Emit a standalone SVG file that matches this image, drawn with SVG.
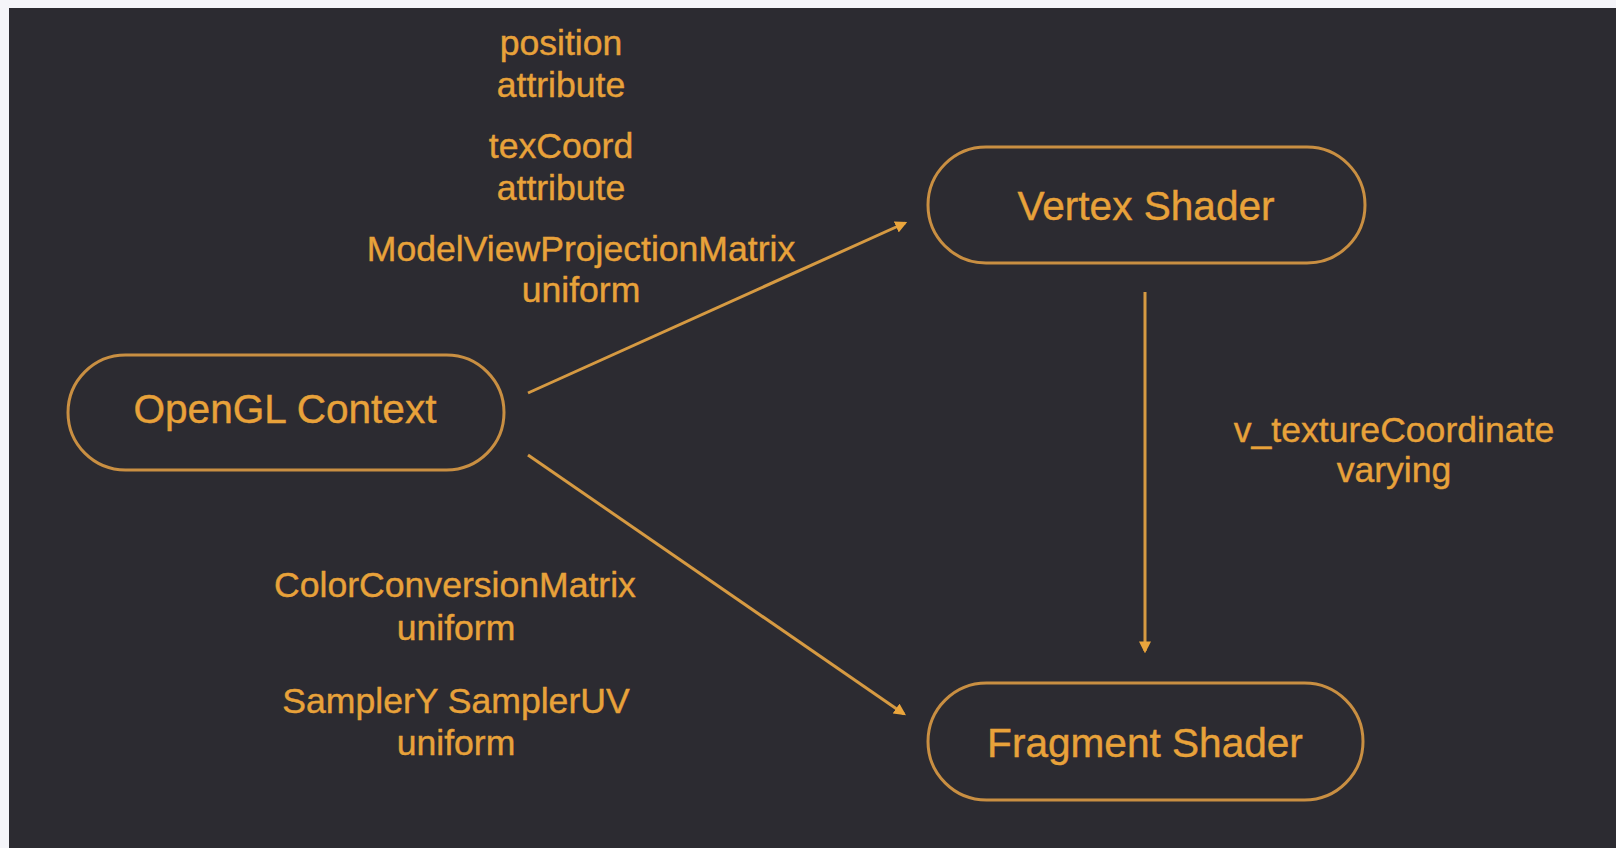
<svg xmlns="http://www.w3.org/2000/svg" width="1616" height="848" viewBox="0 0 1616 848">
  <style>
    .node { fill: none; stroke: #c98f42; stroke-width: 3; }
    .title { font-family: "Liberation Sans", Arial, sans-serif; font-size: 40.6px; fill: #e8a23a; stroke: #e8a23a; stroke-width: 0.4; text-anchor: middle; }
    .label { font-family: "Liberation Sans", Arial, sans-serif; font-size: 35.6px; fill: #e8a23a; stroke: #e8a23a; stroke-width: 0.4; text-anchor: middle; }
    .edge { stroke: #d69a42; stroke-width: 3; fill: none; marker-end: url(#tip); }
  </style>
  <defs>
    <marker id="tip" viewBox="0 0 10 10" refX="8" refY="5" markerWidth="4" markerHeight="4" orient="auto" markerUnits="strokeWidth">
      <path d="M0,0 L10,5 L0,10 z" fill="#eaa53c"/>
    </marker>
  </defs>

  <!-- page and canvas -->
  <rect x="0" y="0" width="1616" height="848" fill="#f5f5f9"/>
  <rect x="9" y="8" width="1607" height="840" fill="#2c2b31"/>

  <!-- connectors -->
  <g id="connectors">
    <line class="edge" x1="528" y1="393" x2="905" y2="223"/>
    <line class="edge" x1="528" y1="455" x2="904" y2="714"/>
    <line class="edge" x1="1145" y1="292" x2="1145" y2="651"/>
  </g>

  <!-- uniforms/attributes passed to the vertex shader -->
  <g id="vertex-inputs">
    <text class="label" x="561" y="55">position</text>
    <text class="label" x="561" y="97">attribute</text>
    <text class="label" x="561" y="158">texCoord</text>
    <text class="label" x="561" y="200">attribute</text>
    <text class="label" x="581" y="261">ModelViewProjectionMatrix</text>
    <text class="label" x="581" y="302">uniform</text>
  </g>

  <!-- uniforms passed to the fragment shader -->
  <g id="fragment-inputs">
    <text class="label" x="455" y="597">ColorConversionMatrix</text>
    <text class="label" x="456" y="640">uniform</text>
    <text class="label" x="456" y="713">SamplerY SamplerUV</text>
    <text class="label" x="456" y="755">uniform</text>
  </g>

  <!-- varying between shaders -->
  <g id="varying">
    <text class="label" x="1394" y="442">v_textureCoordinate</text>
    <text class="label" x="1394" y="482">varying</text>
  </g>

  <g id="opengl-context">
    <rect class="node" x="68" y="355" width="436" height="115" rx="57.5"/>
    <text class="title" x="285" y="423">OpenGL Context</text>
  </g>

  <g id="vertex-shader">
    <rect class="node" x="928" y="147" width="437" height="116" rx="58"/>
    <text class="title" x="1146" y="220">Vertex Shader</text>
  </g>

  <g id="fragment-shader">
    <rect class="node" x="928" y="683" width="435" height="117" rx="58.5"/>
    <text class="title" x="1145" y="757">Fragment Shader</text>
  </g>
</svg>
